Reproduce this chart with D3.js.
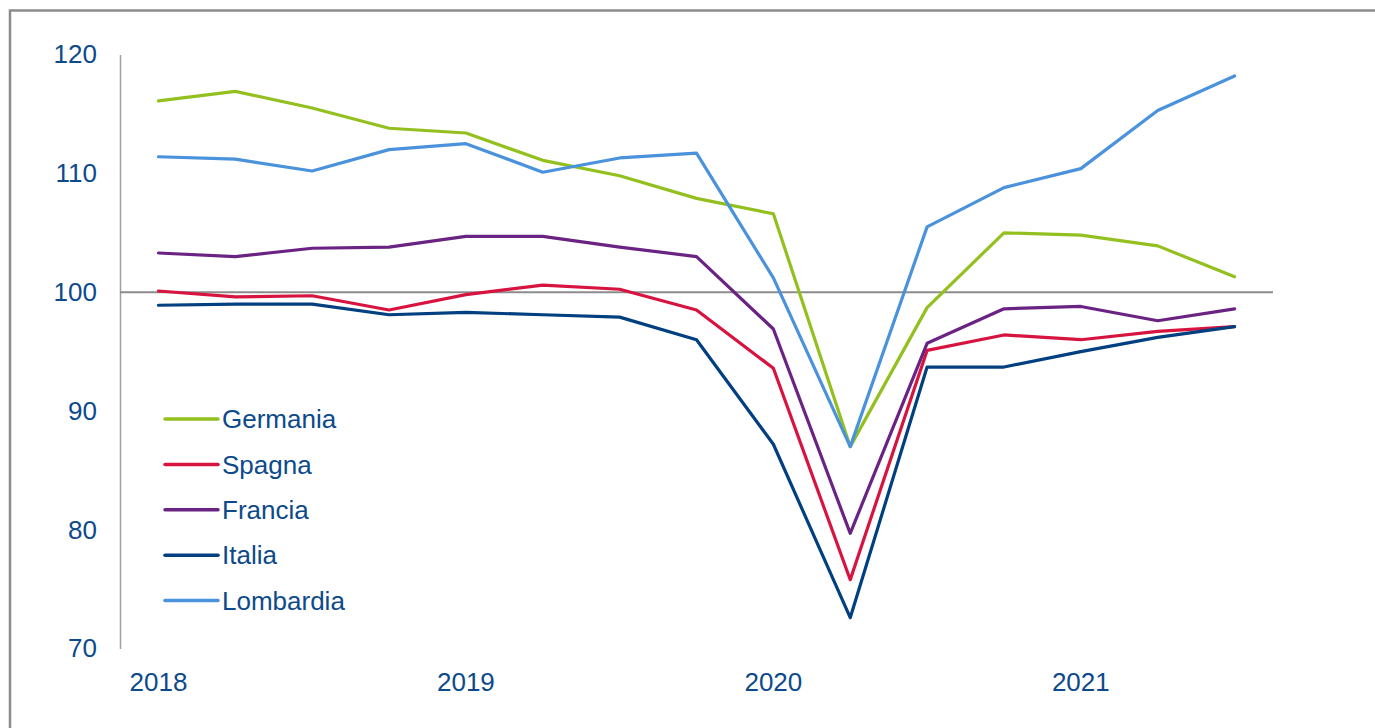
<!DOCTYPE html>
<html>
<head>
<meta charset="utf-8">
<script src="https://cdn.jsdelivr.net/npm/d3@7"></script>
<style>
  body { margin: 0; background: #fff; }
  svg { display: block; font-family: 'Liberation Sans', Arial, sans-serif; }
</style>
</head>
<body>
<script>
// quarters 2018Q1 .. 2021Q3
var quarters = ['2018Q1', '2018Q2', '2018Q3', '2018Q4', '2019Q1', '2019Q2', '2019Q3', '2019Q4',
  '2020Q1', '2020Q2', '2020Q3', '2020Q4', '2021Q1', '2021Q2', '2021Q3'];
var yearLabels = ['2018', '2019', '2020', '2021'];
var yTicks = [70, 80, 90, 100, 110, 120];

var germania = [116.1, 116.9, 115.5, 113.8, 113.4, 111.1, 109.8, 107.9, 106.6, 87.0, 98.7, 105.0, 104.8, 103.9, 101.3];
var spagna = [100.1, 99.6, 99.7, 98.5, 99.8, 100.6, 100.25, 98.5, 93.6, 75.8, 95.1, 96.4, 96.0, 96.7, 97.1];
var francia = [103.3, 103.0, 103.7, 103.8, 104.7, 104.7, 103.8, 103.0, 96.9, 79.7, 95.7, 98.6, 98.8, 97.6, 98.6];
var italia = [98.9, 99.0, 99.0, 98.1, 98.3, 98.1, 97.9, 96.0, 87.2, 72.6, 93.7, 93.7, 95.0, 96.2, 97.1];
var lombardia = [111.4, 111.2, 110.2, 112.0, 112.5, 110.1, 111.3, 111.7, 101.2, 87.0, 105.5, 108.8, 110.4, 115.3, 118.2];

var series = [
  { name: 'Germania', values: germania, color: '#93c01f' },
  { name: 'Spagna', values: spagna, color: '#d7143f' },
  { name: 'Francia', values: francia, color: '#6b2383' },
  { name: 'Italia', values: italia, color: '#003f80' },
  { name: 'Lombardia', values: lombardia, color: '#4a92dc' }
];

var width = 1375,
  height = 728,
  textColor = '#0c4a8c';

var svg = d3.select('body').append('svg').attr('width', width).attr('height', height);

// outer frame
svg.append('rect')
  .attr('x', 10)
  .attr('y', 10.5)
  .attr('width', 1400)
  .attr('height', 800)
  .style('fill', 'none')
  .style('stroke', '#8c8c8c')
  .style('stroke-width', 2.5);

var x = d3.scalePoint().domain(quarters).range([120, 1273]).padding(0.5);
var y = d3.scaleLinear().domain([70, 120]).range([648.6, 54.6]);

// y axis
var yAxis = svg.append('g')
  .attr('transform', 'translate(120,0)')
  .call(d3.axisLeft(y).tickValues(yTicks).tickSize(0).tickPadding(23));
yAxis.select('.domain').style('stroke', '#a0a0a0').style('stroke-width', 1.5);
yAxis.selectAll('text')
  .style('font-size', '26px')
  .style('fill', textColor)
  .style('font-family', "'Liberation Sans', Arial, sans-serif");

// reference line at 100
svg.append('line')
  .attr('x1', 120)
  .attr('x2', 1273)
  .attr('y1', y(100))
  .attr('y2', y(100))
  .style('stroke', '#8c8c8c')
  .style('stroke-width', 2);

// year labels under Q1 of each year
svg.append('g')
  .selectAll('text')
  .data(yearLabels)
  .enter()
  .append('text')
  .attr('x', function(d) { return x(d + 'Q1'); })
  .attr('y', 691)
  .attr('text-anchor', 'middle')
  .style('font-size', '26px')
  .style('fill', textColor)
  .text(function(d) { return d; });

var line = d3.line()
  .x(function(d, i) { return x(quarters[i]); })
  .y(function(d) { return y(d); });

svg.append('g')
  .selectAll('path')
  .data(series)
  .enter()
  .append('path')
  .attr('d', function(s) { return line(s.values); })
  .style('fill', 'none')
  .style('stroke', function(s) { return s.color; })
  .style('stroke-width', 3.2)
  .style('stroke-linejoin', 'round')
  .style('stroke-linecap', 'round');

// legend
var legend = svg.append('g').attr('class', 'legend');
var item = legend.selectAll('g')
  .data(series)
  .enter()
  .append('g')
  .attr('transform', function(s, i) { return 'translate(0,' + (419 + i * 45.4) + ')'; });

item.append('line')
  .attr('x1', 165)
  .attr('x2', 218)
  .style('stroke', function(s) { return s.color; })
  .style('stroke-width', 3.5)
  .style('stroke-linecap', 'round');

item.append('text')
  .attr('x', 222)
  .attr('dy', '0.35em')
  .style('font-size', '26px')
  .style('fill', textColor)
  .text(function(s) { return s.name; });
</script>
</body>
</html>
